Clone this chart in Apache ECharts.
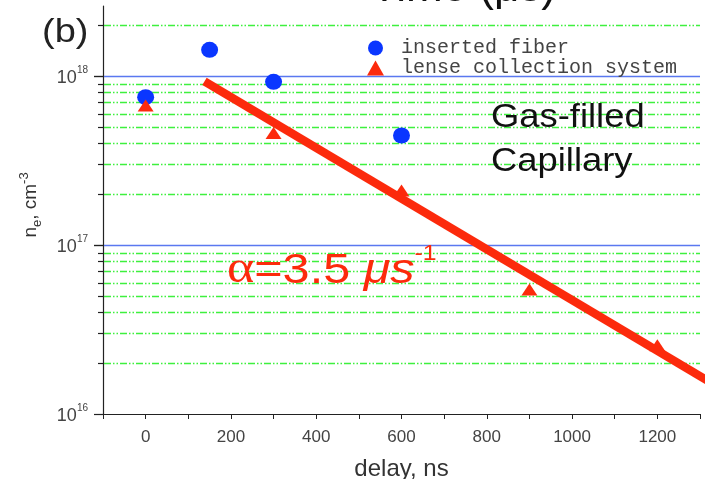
<!DOCTYPE html>
<html><head><meta charset="utf-8">
<script src="https://cdn.jsdelivr.net/npm/echarts@6/dist/echarts.min.js"></script>
<style>html,body{margin:0;padding:0;background:#fff}#c{width:708px;height:479px}</style>
</head><body><div id="c"></div>
<script>
// ---- data ----
const fiberDelay = [0, 150, 300, 600];
const fiberDensity = [7.5e17, 1.43e18, 9.25e17, 4.45e17];
const lenseDelay = [0, 300, 600, 900, 1200];
const lenseDensity = [6.7e17, 4.6e17, 2.1e17, 5.45e16, 2.55e16];
const fitDelay = [138, 1330];
const fitDensity = [9.3e17, 1.51e16];
const majorY = [1e16, 1e17, 1e18];
const majorGridY = [1e17, 1e18];
const minorY = [2e16, 3e16, 4e16, 5e16, 6e16, 7e16, 8e16, 9e16,
                2e17, 3e17, 4e17, 5e17, 6e17, 7e17, 8e17, 9e17, 2e18];
const xMin = -100, xMax = 1300, xStep = 100, xLabelStep = 200;
const yMin = 1e16, yMax = 2.6e18;

const chart = echarts.init(document.getElementById('c'));

function lineRender(color, dash, width, tickLen) {
  return function (params, api) {
    const v = api.value(1);
    const a = api.coord([xMin, v]);
    const b = api.coord([xMax, v]);
    const y = Math.round(a[1]) + 0.5;
    const ch = [];
    if (color) ch.push({type: 'line', shape: {x1: a[0] + 1, y1: y, x2: b[0], y2: y},
      style: {stroke: color, lineWidth: width, lineDash: dash}});
    ch.push({type: 'line', shape: {x1: a[0] - tickLen, y1: y, x2: a[0], y2: y},
      style: {stroke: '#222', lineWidth: 1.2}});
    return {type: 'group', children: ch};
  };
}

const red = '#fc2a0c';
const option = {
  animation: false,
  backgroundColor: '#fff',
  grid: {left: 103, right: 8, top: 6, bottom: 65, containLabel: false, outerBoundsMode: 'none'},
  xAxis: {
    type: 'value', min: xMin, max: xMax, interval: xStep,
    name: 'delay, ns', nameLocation: 'middle', nameGap: 43,
    nameTextStyle: {fontFamily: 'Liberation Sans', fontSize: 24, color: '#333'},
    axisLine: {onZero: false, lineStyle: {color: '#222', width: 1.2}},
    axisTick: {inside: false, length: 5, lineStyle: {color: '#222'}},
    axisLabel: {fontFamily: 'Liberation Sans', fontSize: 17, color: '#444', margin: 15,
      formatter: v => (v % xLabelStep === 0 ? String(v) : '')},
    splitLine: {show: false}
  },
  yAxis: {
    type: 'log', logBase: 10, min: yMin, max: yMax,
    axisLine: {show: true, onZero: false, lineStyle: {color: '#222', width: 1.2}},
    axisTick: {show: false},
    splitLine: {show: false},
    axisLabel: {
      margin: 15, color: '#444',
      formatter: function (v) {
        const e = Math.log10(v), r = Math.round(e);
        if (Math.abs(e - r) > 1e-6) return '';
        return '{b|10}{s|' + r + '}';
      },
      rich: {
        b: {fontFamily: 'Liberation Sans', fontSize: 18, color: '#444', lineHeight: 22, verticalAlign: 'bottom'},
        s: {fontFamily: 'Liberation Sans', fontSize: 10, color: '#444', lineHeight: 22, verticalAlign: 'top'}
      }
    }
  },
  legend: {
    data: [{name: 'inserted fiber', icon: 'circle'}, {name: 'lense collection system', icon: 'triangle'}],
    orient: 'vertical', left: 362, top: 33, itemWidth: 17, itemHeight: 15, itemGap: 0,
    selectedMode: false,
    textStyle: {fontFamily: 'Liberation Mono', fontSize: 20, color: '#444', padding: [0, 0, 0, 12]}
  },
  series: [
    {type: 'custom', name: 'minor', silent: true, z: 1, clip: false,
      renderItem: lineRender('#3ef03e', [7, 2, 1.5, 2, 1.5, 2], 1.4, 5),
      data: minorY.map(v => [xMin, v]), encode: {x: 0, y: 1}},
    {type: 'custom', name: 'majorGrid', silent: true, z: 1, clip: false,
      renderItem: lineRender('#5a78f0', null, 1.6, 9),
      data: majorGridY.map(v => [xMin, v]), encode: {x: 0, y: 1}},
    {type: 'custom', name: 'majorTick', silent: true, z: 1, clip: false,
      renderItem: lineRender(null, null, 1, 9),
      data: majorY.map(v => [xMin, v]), encode: {x: 0, y: 1}},
    {type: 'scatter', name: 'inserted fiber', symbol: 'circle', symbolSize: [17, 16], z: 3,
      itemStyle: {color: '#0a36ff', opacity: 1},
      data: fiberDelay.map((d, i) => [d, fiberDensity[i]])},
    {type: 'scatter', name: 'lense collection system', symbol: 'triangle', symbolSize: [16, 12], z: 3,
      itemStyle: {color: red, opacity: 1},
      data: lenseDelay.map((d, i) => [d, lenseDensity[i]])},
    {type: 'line', name: 'fit', z: 5, clip: false, symbol: 'none', silent: true,
      lineStyle: {color: red, width: 8.5, cap: 'butt'},
      data: fitDelay.map((d, i) => [d, fitDensity[i]])}
  ],
  graphic: [
    {type: 'text', x: 42, y: 16, scaleX: 1.15, z: 10,
      style: {text: '(b)', fontFamily: 'Liberation Sans', fontSize: 33, fill: '#222'}},
    {type: 'text', x: 371, y: 11, z: 10,
      style: {text: 'Time (μs)', fontFamily: 'Liberation Sans', fontSize: 44, fill: '#111', verticalAlign: 'bottom'}},
    {type: 'text', x: 491, y: 96, scaleX: 1.07, z: 10,
      style: {text: 'Gas-filled\nCapillary', fontFamily: 'Liberation Sans', fontSize: 34, lineHeight: 44, fill: '#111'}},
    {type: 'text', x: 227, y: 243, scaleX: 1.13, z: 10,
      style: {
        text: '{g|α}{n|=3.5 }{i|μs}{s|-1}',
        rich: {
          g: {fontFamily: 'Liberation Serif', fontSize: 46, fill: red, lineHeight: 50, verticalAlign: 'bottom'},
          n: {fontFamily: 'Liberation Sans', fontSize: 43, fill: red, lineHeight: 50, verticalAlign: 'bottom'},
          i: {fontFamily: 'Liberation Sans', fontStyle: 'italic', fontSize: 43, fill: red, lineHeight: 50, verticalAlign: 'bottom'},
          s: {fontFamily: 'Liberation Sans', fontSize: 22, fill: red, lineHeight: 50, verticalAlign: 'top'}
        }
      }},
    {type: 'text', x: 31, y: 205, rotation: Math.PI / 2, z: 10,
      style: {
        text: '{a|n}{b|e}{a|, cm}{c|-3}', align: 'center', verticalAlign: 'middle',
        rich: {
          a: {fontFamily: 'Liberation Sans', fontSize: 19, fill: '#333', lineHeight: 26, verticalAlign: 'middle'},
          b: {fontFamily: 'Liberation Sans', fontSize: 13, fill: '#333', lineHeight: 26, verticalAlign: 'bottom'},
          c: {fontFamily: 'Liberation Sans', fontSize: 13, fill: '#333', lineHeight: 26, verticalAlign: 'top'}
        }
      }}
  ]
};
chart.setOption(option);
</script></body></html>
